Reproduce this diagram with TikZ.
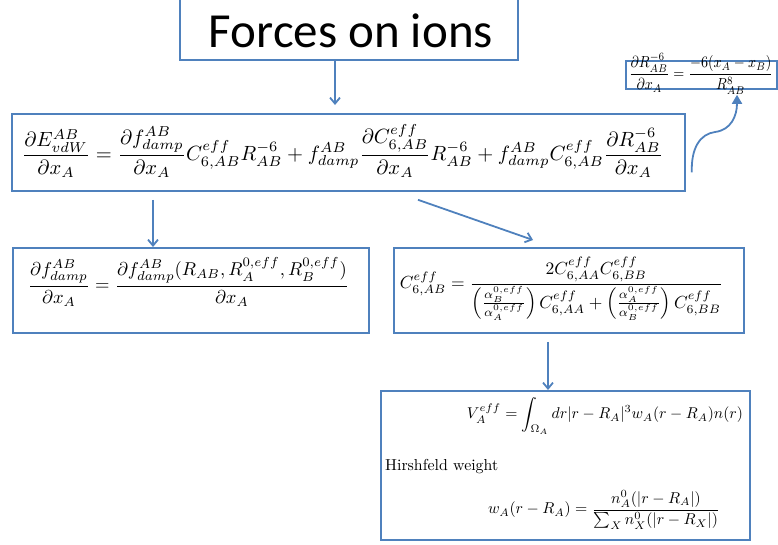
\documentclass[tikz,border=0pt]{standalone}
\usepackage{amsmath}
\usepackage{graphicx}
\usepackage{fontspec}
\newfontfamily\titlefont{Carlito}
\usetikzlibrary{arrows.meta,calc}
\definecolor{boxblue}{RGB}{79,129,189}
\tikzset{
  eqbox/.style={draw=boxblue, line width=1.8pt, inner sep=0pt, fill=white},
  arr/.style={draw=boxblue, line width=1.8pt, -{Straight Barb[length=6pt,width=10pt,line width=1.8pt]}},
  carr/.style={draw=boxblue, line width=1.8pt, -{Triangle[length=9pt,width=10pt]}},
  lbl/.style={inner sep=0pt, anchor=center}
}
\begin{document}
\begin{tikzpicture}[x=1pt,y=1pt]
\useasboundingbox (0,0) rectangle (778,-544);
% boxes
\node[eqbox, minimum width=338pt, minimum height=66pt, anchor=south west] (title) at (179,-61) {};
\node[lbl] (titletext) at (351,-31) {\titlefont\fontsize{49}{52}\selectfont Forces on ions};

\node[eqbox, minimum width=673pt, minimum height=77pt, anchor=north west] (main) at (11,-113) {};
\node[lbl] (maineq) at (342.5,-151) {\resizebox{641pt}{!}{$\displaystyle
\frac{\partial E^{AB}_{vdW}}{\partial x_A} = \frac{\partial f^{AB}_{damp}}{\partial x_A} C^{eff}_{6,AB} R^{-6}_{AB} + f^{AB}_{damp} \frac{\partial C^{eff}_{6,AB}}{\partial x_A} R^{-6}_{AB} + f^{AB}_{damp} C^{eff}_{6,AB} \frac{\partial R^{-6}_{AB}}{\partial x_A}$}};

\node[eqbox, minimum width=151pt, minimum height=28pt, anchor=north west] (dr) at (625,-60) {};
\node[lbl] (dreq) at (701,-74) {\resizebox{144pt}{25pt}{$\displaystyle
\frac{\partial R^{-6}_{AB}}{\partial x_A} = \frac{-6(x_A - x_B)}{R^{8}_{AB}}$}};

\node[eqbox, minimum width=356pt, minimum height=85pt, anchor=north west] (lbox) at (12,-247) {};
\node[lbl] (leq) at (188.5,-282) {\resizebox{321pt}{!}{$\displaystyle
\frac{\partial f^{AB}_{damp}}{\partial x_A} = \frac{\partial f^{AB}_{damp}(R_{AB}, R^{0,eff}_A, R^{0,eff}_B)}{\partial x_A}$}};

\node[eqbox, minimum width=350pt, minimum height=85pt, anchor=north west] (rbox) at (393,-247) {};
\node[lbl] (req) at (561.5,-289) {\resizebox{323pt}{!}{$\displaystyle
C^{eff}_{6,AB} = \frac{2C^{eff}_{6,AA}C^{eff}_{6,BB}}{\left(\frac{\alpha^{0,eff}_B}{\alpha^{0,eff}_A}\right) C^{eff}_{6,AA} + \left(\frac{\alpha^{0,eff}_A}{\alpha^{0,eff}_B}\right) C^{eff}_{6,BB}}$}};

\node[eqbox, minimum width=369pt, minimum height=149pt, anchor=north west] (bbox) at (380,-390) {};
\node[lbl] (veq) at (605,-416) {\resizebox{276pt}{!}{$\displaystyle
V^{eff}_A = \int_{\Omega_A} dr |r-R_A|^3 w_A(r-R_A) n(r)$}};
\node[lbl, anchor=base west] (hw) at (385,-470) {\resizebox{113pt}{!}{Hirshfeld weight}};
\node[lbl] (weq) at (604,-510) {\resizebox{232pt}{!}{$\displaystyle
w_A(r-R_A) = \frac{n^0_A(|r-R_A|)}{\sum_X n^0_X(|r-R_X|)}$}};

% connectors
\draw[arr] (title.south -| 335,0) -- ($(main.north -| 335,0)+(0,8pt)$);
\draw[arr] ($(main.south -| 153,0)+(0,-8pt)$) -- (lbox.north -| 153,0);
\draw[arr] ($(main.south -| 418,0)+(0,-8pt)$) -- ($(rbox.north -| 533,0)+(0,7pt)$);
\draw[arr] ($(rbox.south -| 548,0)+(0,-8pt)$) -- (bbox.north -| 548,0);
\coordinate (cstart) at ($(main.east)+(6pt,-20pt)$);
\draw[carr] (cstart) .. controls (691,-148) and (700,-134) .. (715,-132)
  .. controls (731,-130) and (737,-116) .. ($(dr.south -| 737,0)+(0,-5pt)$);
\end{tikzpicture}
\end{document}
